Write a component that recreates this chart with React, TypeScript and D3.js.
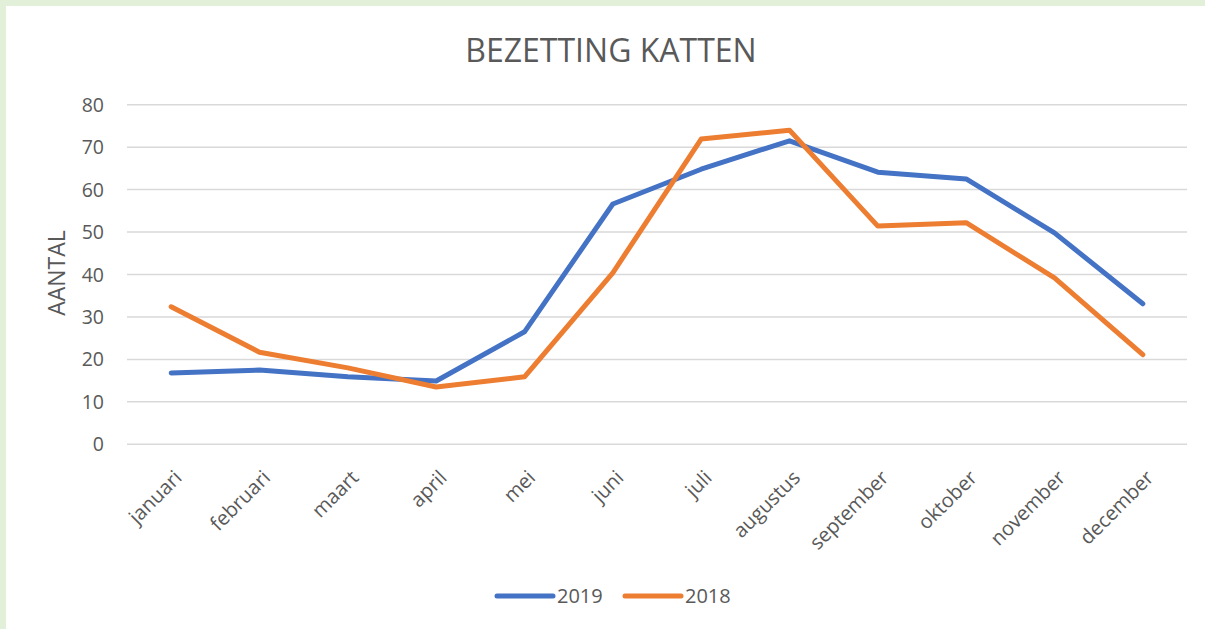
import React from "react";
import * as d3 from "d3";

const months = ["januari","februari","maart","april","mei","juni","juli","augustus","september","oktober","november","december"];
const values2019 = [16.8, 17.5, 15.9, 14.9, 26.5, 56.6, 64.8, 71.5, 64.1, 62.5, 49.8, 33.1];
const values2018 = [32.4, 21.7, 18.0, 13.5, 15.9, 40.4, 71.9, 74.0, 51.4, 52.2, 39.2, 21.1];
const yTicks = [0, 10, 20, 30, 40, 50, 60, 70, 80];
const seriesNames = ["2019", "2018"];
const colors = ["#4472c4", "#ed7d31"];

export default function App() {
  const W = 1205, H = 629;
  const left = 127, right = 1187, top = 104.7, bottom = 444.3;
  const x = d3.scaleBand<string>().domain(months).range([left, right]);
  const y = d3.scaleLinear().domain([0, 80]).range([bottom, top]);
  const line = d3.line<number>()
    .x((_, i) => (x(months[i]) as number) + x.bandwidth() / 2)
    .y((d) => y(d));
  const series = [values2019, values2018];
  const font = "'Open Sans', 'Liberation Sans', sans-serif";
  const txt = "#595959";
  const legend = [
    { x1: 497, x2: 553, tx: 557 },
    { x1: 625, x2: 681, tx: 685 },
  ];
  return (
    <svg width={W} height={H} style={{ position: "fixed", left: 0, top: 0, display: "block" }} fontFamily={font}>
      <rect x={0} y={0} width={W} height={H} fill="#e2efd9" />
      <rect x={6} y={6} width={W - 6} height={H - 6} fill="#ffffff" />
      <text x={611} y={62} textAnchor="middle" fontSize={32} fill={txt}>BEZETTING KATTEN</text>
      {yTicks.map((t) => (
        <g key={t}>
          <line x1={left} x2={right} y1={y(t)} y2={y(t)} stroke="#d9d9d9" strokeWidth={1.5} />
          <text x={104} y={y(t) + 7} textAnchor="end" fontSize={19.5} fill={txt}>{t}</text>
        </g>
      ))}
      <text transform={`translate(65,${273}) rotate(-90)`} textAnchor="middle" fontSize={23} fill={txt}>AANTAL</text>
      {months.map((m) => {
        const cx = (x(m) as number) + x.bandwidth() / 2;
        return (
          <text key={m} transform={`translate(${cx + 12},${479}) rotate(-45)`} textAnchor="end" fontSize={20} fill={txt}>{m}</text>
        );
      })}
      {series.map((s, i) => (
        <path key={i} d={line(s) as string} fill="none" stroke={colors[i]} strokeWidth={5} strokeLinecap="round" strokeLinejoin="round" />
      ))}
      {seriesNames.map((n, i) => (
        <g key={n}>
          <line x1={legend[i].x1} x2={legend[i].x2} y1={596} y2={596} stroke={colors[i]} strokeWidth={5} strokeLinecap="round" />
          <text x={legend[i].tx} y={603} fontSize={20} fill={txt}>{n}</text>
        </g>
      ))}
    </svg>
  );
}
